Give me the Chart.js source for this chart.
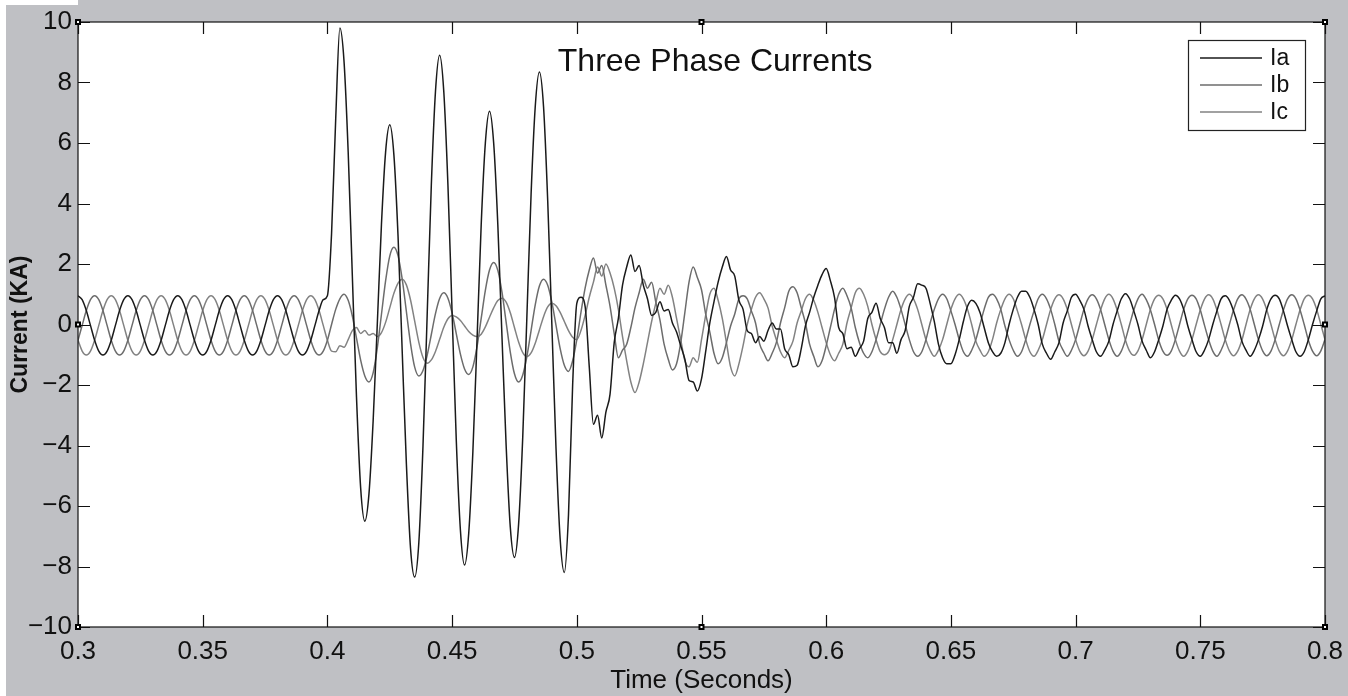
<!DOCTYPE html>
<html>
<head>
<meta charset="utf-8">
<title>Three Phase Currents</title>
<script src="https://cdn.jsdelivr.net/npm/chart.js@4.4.1/dist/chart.umd.min.js"></script>
<style>
    html, body { margin: 0; padding: 0; background: #bfc0c4; }
    canvas { display: block; }
</style>
</head>
<body>
<canvas id="currentChart" width="1348" height="696"></canvas>
<script>
// samples every 1/600 s (30 electrical degrees at 50 Hz), starting at 0.3 s
const startTime = 0.3;
const sampleStep = 1 / 600;

const seriesNames = ['Ia', 'Ib', 'Ic'];
const seriesColors = ['#1a1a1a', '#6c6c6c', '#828282'];

const xTickValues = [0.3, 0.35, 0.4, 0.45, 0.5, 0.55, 0.6, 0.65, 0.7, 0.75, 0.8];
const xTickLabels = ['0.3', '0.35', '0.4', '0.45', '0.5', '0.55', '0.6', '0.65', '0.7', '0.75', '0.8'];
const yTickValues = [-10, -8, -6, -4, -2, 0, 2, 4, 6, 8, 10];
const yTickLabels = ['\u221210', '\u22128', '\u22126', '\u22124', '\u22122', '0', '2', '4', '6', '8', '10'];

const chartTitle = 'Three Phase Currents';
const xTitle = 'Time (Seconds)';
const yTitle = 'Current (KA)';

// phase A current (kA), one row per 50 Hz cycle
const ia = [
    0.95, 0.82, 0.46, -0.03, -0.52, -0.88, -1.01, -0.88, -0.52, -0.03, 0.46, 0.82,
    0.95, 0.82, 0.46, -0.03, -0.52, -0.88, -1.01, -0.88, -0.52, -0.03, 0.46, 0.82,
    0.95, 0.82, 0.46, -0.03, -0.52, -0.88, -1.01, -0.88, -0.52, -0.03, 0.46, 0.82,
    0.95, 0.82, 0.46, -0.03, -0.52, -0.88, -1.01, -0.88, -0.52, -0.03, 0.46, 0.82,
    0.95, 0.82, 0.46, -0.03, -0.52, -0.88, -1.01, -0.88, -0.52, -0.03, 0.46, 0.82,
    0.95, 3.0, 6.8, 9.8, 8.7, 5.7, 1.6, -2.4, -5.4, -6.5, -5.6, -3.2,
    0.0, 3.3, 5.7, 6.6, 5.6, 2.9, -0.9, -4.6, -7.4, -8.35, -7.2, -4.0,
    0.3, 4.6, 7.7, 8.9, 7.7, 4.6, 0.4, -3.8, -6.8, -7.95, -6.9, -4.2,
    -0.5, 3.3, 6.0, 7.05, 6.0, 3.3, -0.4, -4.0, -6.7, -7.7, -6.6, -3.7,
    0.3, 4.3, 7.2, 8.35, 7.2, 4.1, 0.0, -4.1, -7.1, -8.2, -6.3, -2.0,
    0.7, 0.9, 0.6, -1.4, -3.3, -3.0, -3.75, -2.9, -2.3, -0.6, 0.2, 1.3,
    1.9, 2.3, 1.75, 1.95, 1.3, 0.85, 0.3, 0.4, 0.75, 0.45, 0.5, 0.05,
    -0.25, -0.7, -1.15, -1.85, -1.9, -2.2, -1.8, -0.9, 0.05, 0.75, 1.4, 1.9,
    2.25, 1.8, 1.6, 0.8, 0.5, -0.2, -0.3, -0.6, -0.4, -0.55, -0.2, 0.05,
    -0.15, -0.15, -0.8, -1.0, -1.4, -1.35, -0.8, -0.05, 0.4, 0.9, 1.3, 1.65,
    1.85, 1.45, 0.9, -0.1, -0.3, -0.8, -0.75, -1.05, -0.8, -0.55, 0.2, 0.4,
    0.7, 0.2, -0.1, -0.6, -0.6, -0.95, -0.5, -0.2, 0.6, 0.9, 1.35, 1.3,
    1.2, 0.7, 0.1, -0.65, -1.1, -1.3, -1.3, -1.0, -0.5, 0.1, 0.6, 0.8,
    0.7, 0.4, -0.1, -0.6, -0.9, -1.05, -0.95, -0.6, 0.0, 0.5, 0.9, 1.1,
    1.1, 0.9, 0.5, 0.0, -0.65, -0.95, -1.15, -0.9, -0.6, 0.05, 0.45, 0.9,
    1.0, 0.8, 0.5, -0.05, -0.5, -0.9, -1.05, -0.85, -0.55, 0.0, 0.45, 0.85,
    1.02, 0.85, 0.45, 0.0, -0.55, -0.85, -1.1, -0.9, -0.5, -0.05, 0.5, 0.8,
    0.97, 0.85, 0.5, -0.05, -0.5, -0.9, -1.05, -0.85, -0.5, 0.0, 0.45, 0.85,
    0.95, 0.8, 0.45, 0.0, -0.55, -0.85, -1.05, -0.85, -0.5, -0.05, 0.5, 0.85,
    0.97, 0.85, 0.45, -0.05, -0.5, -0.9, -1.05, -0.9, -0.5, 0.0, 0.45, 0.85,
    0.95
];

// phase B current (kA)
const ib = [
    -0.52, -0.03, 0.46, 0.82, 0.95, 0.82, 0.46, -0.03, -0.52, -0.88, -1.01, -0.88,
    -0.52, -0.03, 0.46, 0.82, 0.95, 0.82, 0.46, -0.03, -0.52, -0.88, -1.01, -0.88,
    -0.52, -0.03, 0.46, 0.82, 0.95, 0.82, 0.46, -0.03, -0.52, -0.88, -1.01, -0.88,
    -0.52, -0.03, 0.46, 0.82, 0.95, 0.82, 0.46, -0.03, -0.52, -0.88, -1.01, -0.88,
    -0.52, -0.03, 0.46, 0.82, 0.95, 0.82, 0.46, -0.03, -0.52, -0.88, -1.01, -0.88,
    -0.52, 0.0, 0.5, 0.85, 1.0, 0.8, 0.28, -0.45, -1.18, -1.7, -1.9, -1.6,
    -0.78, 0.33, 1.44, 2.26, 2.55, 2.27, 1.5, 0.43, -0.63, -1.41, -1.7, -1.52,
    -1.02, -0.33, 0.36, 0.86, 1.05, 0.87, 0.38, -0.3, -0.98, -1.47, -1.65, -1.4,
    -0.73, 0.2, 1.13, 1.8, 2.05, 1.79, 1.07, 0.08, -0.91, -1.63, -1.9, -1.67,
    -1.05, -0.2, 0.65, 1.27, 1.5, 1.3, 0.74, -0.03, -0.8, -1.35, -1.55, -1.2,
    -0.5, 0.4, 1.2, 1.8, 2.2, 1.7, 1.95, 1.3, 0.6, -0.3, -1.1, -0.85,
    -0.65, -0.1, 0.55, 1.05, 1.5, 1.2, 1.4, 0.75, 0.15, -0.65, -1.15, -1.5,
    -1.3, -0.6, 0.4, 1.4, 1.9, 1.55, 1.15, 0.35, -0.25, -0.95, -1.3, -1.1,
    -0.6, -0.05, 0.35, 0.85, 0.95, 0.85, 0.45, 0.05, -0.65, -0.95, -1.2, -0.95,
    -0.6, 0.05, 0.55, 1.1, 1.25, 1.05, 0.55, 0.05, -0.65, -1.05, -1.4, -1.2,
    -0.7, -0.1, 0.5, 1.0, 1.2, 0.95, 0.55, -0.1, -0.6, -0.95, -1.1, -0.9,
    -0.5, 0.0, 0.5, 0.9, 1.1, 0.9, 0.5, 0.0, -0.5, -0.9, -1.05, -0.9,
    -0.5, 0.05, 0.5, 0.85, 1.0, 0.85, 0.45, 0.0, -0.5, -0.9, -1.05, -0.85,
    -0.5, 0.0, 0.5, 0.9, 1.0, 0.85, 0.5, -0.05, -0.5, -0.85, -1.05, -0.9,
    -0.5, 0.0, 0.45, 0.85, 1.0, 0.85, 0.5, 0.0, -0.55, -0.85, -1.05, -0.85,
    -0.5, 0.0, 0.5, 0.85, 0.98, 0.85, 0.5, 0.0, -0.5, -0.88, -1.05, -0.88,
    -0.5, 0.0, 0.48, 0.85, 1.0, 0.82, 0.48, 0.0, -0.52, -0.88, -1.02, -0.88,
    -0.5, 0.0, 0.5, 0.85, 0.97, 0.85, 0.48, -0.02, -0.5, -0.88, -1.05, -0.85,
    -0.5, 0.0, 0.48, 0.85, 0.98, 0.84, 0.5, 0.0, -0.5, -0.87, -1.03, -0.88,
    -0.5, 0.0, 0.48, 0.85, 0.98, 0.85, 0.48, 0.0, -0.52, -0.88, -1.03, -0.87,
    -0.5
];

// phase C current (kA)
const ic = [
    -0.52, -0.88, -1.01, -0.88, -0.52, -0.03, 0.46, 0.82, 0.95, 0.82, 0.46, -0.03,
    -0.52, -0.88, -1.01, -0.88, -0.52, -0.03, 0.46, 0.82, 0.95, 0.82, 0.46, -0.03,
    -0.52, -0.88, -1.01, -0.88, -0.52, -0.03, 0.46, 0.82, 0.95, 0.82, 0.46, -0.03,
    -0.52, -0.88, -1.01, -0.88, -0.52, -0.03, 0.46, 0.82, 0.95, 0.82, 0.46, -0.03,
    -0.52, -0.88, -1.01, -0.88, -0.52, -0.03, 0.46, 0.82, 0.95, 0.82, 0.46, -0.03,
    -0.52, -0.88, -0.9, -0.7, -0.75, -0.5, -0.2, -0.1, -0.3, -0.2, -0.35, -0.3,
    -0.4, -0.27, 0.07, 0.55, 1.03, 1.37, 1.5, 1.31, 0.81, 0.11, -0.59, -1.09,
    -1.28, -1.17, -0.89, -0.49, -0.09, 0.19, 0.3, 0.25, 0.13, -0.05, -0.23, -0.35,
    -0.4, -0.32, -0.08, 0.24, 0.55, 0.79, 0.87, 0.74, 0.39, -0.1, -0.58, -0.93,
    -1.06, -0.94, -0.62, -0.18, 0.26, 0.58, 0.7, 0.62, 0.4, 0.1, -0.2, -0.42,
    -0.5, -0.2, 0.3, 0.9, 1.4, 1.9, 1.6, 2.0, 1.7, 1.2, 0.5, -0.4,
    -1.2, -1.9, -2.25, -1.9, -1.3, -0.6, 0.1, 0.7, 1.2, 1.0, 1.3, 0.9,
    0.2, -0.5, -1.2, -1.4, -1.1, -1.25, -0.5, 0.3, 1.0, 1.2, 0.8, 0.2,
    -0.6, -1.4, -1.7, -1.3, -0.7, 0.0, 0.5, 0.9, 1.05, 0.85, 0.55, -0.05,
    -0.5, -0.9, -1.1, -0.85, -0.55, 0.05, 0.45, 0.85, 1.0, 0.8, 0.4, -0.1,
    -0.6, -1.0, -1.2, -0.95, -0.65, 0.05, 0.55, 1.05, 1.2, 1.0, 0.6, 0.0,
    -0.5, -0.9, -1.0, -0.9, -0.5, 0.0, 0.5, 0.85, 1.0, 0.85, 0.5, 0.0,
    -0.5, -0.85, -1.05, -0.85, -0.5, 0.0, 0.5, 0.85, 1.0, 0.85, 0.5, 0.0,
    -0.55, -0.85, -1.05, -0.9, -0.5, 0.05, 0.5, 0.85, 1.0, 0.85, 0.45, 0.0,
    -0.5, -0.9, -1.05, -0.85, -0.5, 0.0, 0.5, 0.85, 0.98, 0.85, 0.5, 0.0,
    -0.5, -0.88, -1.03, -0.88, -0.5, 0.0, 0.48, 0.85, 1.0, 0.85, 0.48, 0.0,
    -0.52, -0.88, -1.02, -0.87, -0.5, 0.0, 0.5, 0.85, 0.97, 0.85, 0.5, 0.0,
    -0.5, -0.88, -1.05, -0.88, -0.5, 0.0, 0.48, 0.84, 0.98, 0.85, 0.48, 0.0,
    -0.5, -0.87, -1.03, -0.88, -0.52, 0.0, 0.5, 0.85, 0.98, 0.84, 0.48, 0.0,
    -0.5, -0.88, -1.03, -0.87, -0.5, 0.0, 0.48, 0.85, 0.97, 0.85, 0.5, 0.0,
    -0.5
];

const FONT = '"Liberation Sans", Arial, Helvetica, sans-serif';

function toPoints(values) {
    return values.map((v, i) => ({ x: startTime + i * sampleStep, y: v }));
}

// gray figure background, MATLAB-like frame, inward ticks, title and boxed legend
const matlabLook = {
    id: 'matlabLook',
    beforeDraw(chart) {
        const { ctx, width, height, chartArea: a } = chart;
        ctx.save();
        ctx.fillStyle = '#bfc0c4';
        ctx.fillRect(0, 0, width, height);
        ctx.fillStyle = '#ffffff';
        ctx.fillRect(0, 0, 6, height);
        ctx.fillRect(0, 0, a.left, 5);
        ctx.fillRect(a.left, a.top, a.width, a.height);
        ctx.restore();
    },
    afterDatasetsDraw(chart) {
        const { ctx, chartArea: a, scales: { x, y } } = chart;
        const tickLen = 12;
        ctx.save();
        ctx.strokeStyle = '#111';
        ctx.lineWidth = 1.2;
        ctx.strokeRect(a.left, a.top, a.width, a.height);

        ctx.beginPath();
        xTickValues.forEach(v => {
            const px = Math.round(x.getPixelForValue(v)) + 0.5;
            ctx.moveTo(px, a.bottom); ctx.lineTo(px, a.bottom - tickLen);
            ctx.moveTo(px, a.top); ctx.lineTo(px, a.top + tickLen);
        });
        yTickValues.forEach(v => {
            const py = Math.round(y.getPixelForValue(v)) + 0.5;
            ctx.moveTo(a.left, py); ctx.lineTo(a.left + tickLen, py);
            ctx.moveTo(a.right, py); ctx.lineTo(a.right - tickLen, py);
        });
        ctx.stroke();

        // selection handles
        const midX = (a.left + a.right) / 2, midY = (a.top + a.bottom) / 2;
        [[a.left, a.top], [midX, a.top], [a.right, a.top], [a.right, midY],
         [a.right, a.bottom], [midX, a.bottom], [a.left, a.bottom], [a.left, midY]].forEach(([hx, hy]) => {
            ctx.fillStyle = '#000';
            ctx.fillRect(hx - 3, hy - 3, 6, 6);
            ctx.fillStyle = '#fff';
            ctx.fillRect(hx - 1, hy - 1, 2, 2);
        });

        // title inside the axes
        ctx.fillStyle = '#111';
        ctx.font = '32px ' + FONT;
        ctx.textAlign = 'center';
        ctx.textBaseline = 'middle';
        ctx.fillText(chartTitle, a.left + a.width * 0.511, a.top + 40);

        // legend box
        const boxW = 117, boxH = 90;
        const boxX = a.right - 20 - boxW, boxY = a.top + 18;
        ctx.fillStyle = '#fff';
        ctx.fillRect(boxX, boxY, boxW, boxH);
        ctx.strokeStyle = '#222';
        ctx.lineWidth = 1.2;
        ctx.strokeRect(boxX + 0.5, boxY + 0.5, boxW, boxH);
        ctx.font = '23px ' + FONT;
        ctx.textAlign = 'left';
        chart.data.datasets.forEach((ds, i) => {
            const rowY = boxY + 18 + i * 27;
            ctx.strokeStyle = ds.borderColor;
            ctx.lineWidth = 1.4;
            ctx.beginPath();
            ctx.moveTo(boxX + 12, rowY);
            ctx.lineTo(boxX + 74, rowY);
            ctx.stroke();
            ctx.fillStyle = '#111';
            ctx.fillText(ds.label, boxX + 82, rowY + 1);
        });
        ctx.restore();
    }
};

const ctx = document.getElementById('currentChart').getContext('2d');
const currentChart = new Chart(ctx, {
    type: 'line',
    data: {
        datasets: [ia, ib, ic].map((values, i) => ({
            label: seriesNames[i],
            data: toPoints(values),
            borderColor: seriesColors[i],
            borderWidth: 1.5,
            pointRadius: 0,
            fill: false,
            cubicInterpolationMode: 'monotone'
        }))
    },
    options: {
        responsive: false,
        animation: false,
        devicePixelRatio: 1,
        layout: { padding: { top: 22, right: 23, left: 0, bottom: 0 } },
        scales: {
            x: {
                type: 'linear',
                min: 0.3,
                max: 0.8,
                afterBuildTicks: scale => { scale.ticks = xTickValues.map(v => ({ value: v })); },
                afterFit: scale => {
                    scale.height = 69;
                    scale.paddingLeft = 0;
                    scale.paddingRight = 0;
                },
                grid: { display: false, drawTicks: false },
                border: { display: false },
                ticks: {
                    padding: 9,
                    color: '#111',
                    font: { family: FONT, size: 26 },
                    maxRotation: 0,
                    autoSkip: false,
                    callback: (v, i) => xTickLabels[i]
                },
                title: {
                    display: true,
                    text: xTitle,
                    color: '#111',
                    font: { family: FONT, size: 26 },
                    padding: { top: 0, bottom: 0 }
                }
            },
            y: {
                min: -10,
                max: 10,
                afterBuildTicks: scale => { scale.ticks = yTickValues.map(v => ({ value: v })); },
                afterFit: scale => {
                    scale.width = 78;
                    scale.paddingTop = 0;
                    scale.paddingBottom = 0;
                },
                grid: { display: false, drawTicks: false },
                border: { display: false },
                ticks: {
                    padding: 6,
                    color: '#111',
                    font: { family: FONT, size: 26 },
                    autoSkip: false,
                    callback: (v, i) => yTickLabels[i]
                },
                title: {
                    display: true,
                    text: yTitle,
                    color: '#111',
                    font: { family: FONT, size: 23, weight: 'bold' },
                    padding: { top: 7, bottom: 0 }
                }
            }
        },
        plugins: {
            legend: { display: false },
            tooltip: { enabled: false }
        }
    },
    plugins: [matlabLook]
});
</script>
</body>
</html>
